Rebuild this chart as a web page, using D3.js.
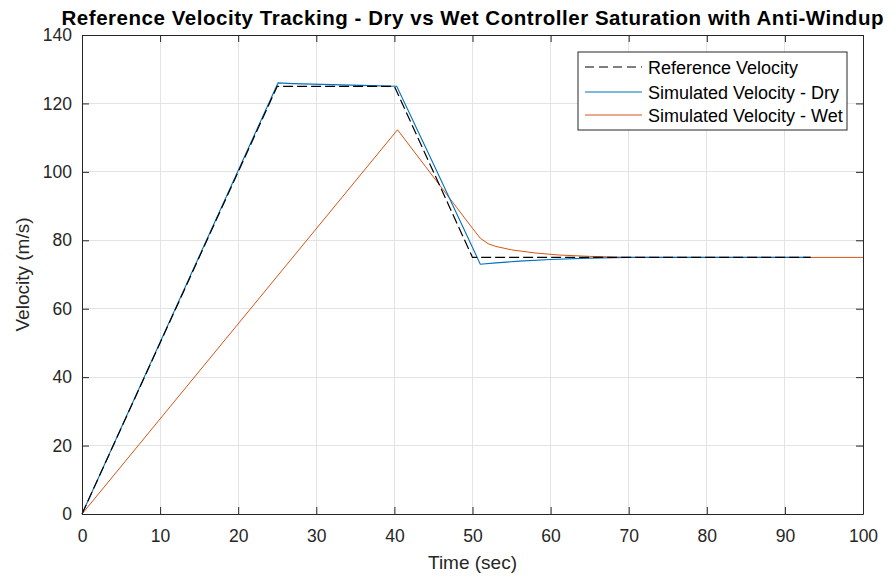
<!DOCTYPE html>
<html>
<head>
<meta charset="utf-8">
<script src="https://cdn.jsdelivr.net/npm/d3@7"></script>
<style>
  html, body { margin: 0; padding: 0; background: #fff; }
  svg { display: block; font-family: "Liberation Sans", Arial, sans-serif; }
</style>
</head>
<body>
<svg id="chart" width="891" height="577"></svg>
<script>
// Reference speed profile: ramp up, cruise, ramp down, hold
const refTime = [0, 25, 40, 50, 93.3];
const refVel  = [0, 125, 125, 75, 75];

// Dry-road response
const dryTime = [0, 25.1, 27, 32, 37, 40.3, 45, 49, 51, 53, 56, 60, 65, 70, 80, 93.3];
const dryVel  = [0, 126, 125.8, 125.5, 125.2, 125, 102.3, 82.8, 73, 73.4, 73.9, 74.4, 74.8, 75, 75, 75];

// Wet-road response
const wetTime = [0, 40.4, 44, 48, 50, 51, 52, 53, 55, 58, 61, 65, 70, 100];
const wetVel  = [0, 112.3, 101.5, 89.5, 83.5, 80.6, 79, 78.2, 77.2, 76.3, 75.7, 75.3, 75, 75];

const xTicks = [0, 10, 20, 30, 40, 50, 60, 70, 80, 90, 100];
const yTicks = [0, 20, 40, 60, 80, 100, 120, 140];

const seriesNames = ["Reference Velocity", "Simulated Velocity - Dry", "Simulated Velocity - Wet"];
const seriesColors = ["#000000", "#0072BD", "#D95319"];

const svg = d3.select("#chart");
const m = { left: 82, right: 863, top: 35, bottom: 514 };

const x = d3.scaleLinear().domain([0, 100]).range([m.left, m.right]);
const y = d3.scaleLinear().domain([0, 140]).range([m.bottom, m.top]);

const axisColor = "#262626";

// grid
const grid = svg.append("g");
grid.selectAll(".gx").data(xTicks.slice(1, -1)).join("line")
  .attr("x1", d => x(d)).attr("x2", d => x(d))
  .attr("y1", m.top).attr("y2", m.bottom)
  .attr("stroke", "#e3e3e3").attr("stroke-width", 1).attr("shape-rendering", "crispEdges");
grid.selectAll(".gy").data(yTicks.slice(1, -1)).join("line")
  .attr("y1", d => y(d)).attr("y2", d => y(d))
  .attr("x1", m.left).attr("x2", m.right)
  .attr("stroke", "#e3e3e3").attr("stroke-width", 1).attr("shape-rendering", "crispEdges");

// data lines
const line = d3.line().x(d => x(d[0])).y(d => y(d[1]));
const zip = (a, b) => a.map((t, i) => [t, b[i]]);

svg.append("path").datum(zip(wetTime, wetVel))
  .attr("d", line).attr("fill", "none")
  .attr("stroke", seriesColors[2]).attr("stroke-width", 1);
svg.append("path").datum(zip(dryTime, dryVel))
  .attr("d", line).attr("fill", "none")
  .attr("stroke", seriesColors[1]).attr("stroke-width", 1.1);
svg.append("path").datum(zip(refTime, refVel))
  .attr("d", line).attr("fill", "none")
  .attr("stroke", seriesColors[0]).attr("stroke-width", 1.2)
  .attr("stroke-dasharray", "10,4");

// axes (ticks inside on all four sides)
const tickLen = 7;
const fmt = d3.format("d");
const bottomAxis = d3.axisBottom(x).tickValues(xTicks).tickFormat(fmt).tickSizeInner(-tickLen).tickSizeOuter(0).tickPadding(16);
const topAxis = d3.axisTop(x).tickValues(xTicks).tickFormat("").tickSizeInner(-tickLen).tickSizeOuter(0);
const leftAxis = d3.axisLeft(y).tickValues(yTicks).tickFormat(fmt).tickSizeInner(-tickLen).tickSizeOuter(0).tickPadding(10);
const rightAxis = d3.axisRight(y).tickValues(yTicks).tickFormat("").tickSizeInner(-tickLen).tickSizeOuter(0);

function styleAxis(g) {
  g.selectAll("path").attr("stroke", axisColor).attr("stroke-width", 1);
  g.selectAll("line").attr("stroke", axisColor).attr("stroke-width", 1);
  g.selectAll("text").attr("fill", axisColor).attr("font-size", 17.5)
    .attr("font-family", "'Liberation Sans', Arial, sans-serif");
}
svg.append("g").attr("transform", `translate(0,${m.bottom})`).call(bottomAxis).call(styleAxis);
svg.append("g").attr("transform", `translate(0,${m.top})`).call(topAxis).call(styleAxis);
svg.append("g").attr("transform", `translate(${m.left},0)`).call(leftAxis).call(styleAxis);
svg.append("g").attr("transform", `translate(${m.right},0)`).call(rightAxis).call(styleAxis);

// titles
svg.append("text")
  .attr("x", (m.left + m.right) / 2).attr("y", 25)
  .attr("text-anchor", "middle").attr("font-weight", "bold").attr("font-size", 20.5)
  .attr("textLength", 822).attr("lengthAdjust", "spacing")
  .attr("fill", "#000").text("Reference Velocity Tracking - Dry vs Wet Controller Saturation with Anti-Windup");
svg.append("text")
  .attr("x", (m.left + m.right) / 2).attr("y", 569)
  .attr("text-anchor", "middle").attr("font-size", 19).attr("fill", axisColor)
  .text("Time (sec)");
svg.append("text")
  .attr("transform", `translate(29,${(m.top + m.bottom) / 2}) rotate(-90)`)
  .attr("text-anchor", "middle").attr("font-size", 19).attr("fill", axisColor)
  .text("Velocity (m/s)");

// legend
const lg = svg.append("g").attr("transform", "translate(578,52)");
lg.append("rect").attr("width", 269).attr("height", 78)
  .attr("fill", "#fff").attr("stroke", axisColor).attr("stroke-width", 1);
const rows = [15, 40, 63];
seriesNames.forEach((name, i) => {
  const yy = rows[i];
  lg.append("line").attr("x1", 7).attr("x2", 64).attr("y1", yy).attr("y2", yy)
    .attr("stroke", seriesColors[i]).attr("stroke-width", i === 0 ? 1.2 : 1)
    .attr("stroke-dasharray", i === 0 ? "9,5" : null);
  lg.append("text").attr("x", 70).attr("y", yy + 6.5)
    .attr("font-size", 18).attr("fill", "#000").text(name);
});
</script>
</body>
</html>
